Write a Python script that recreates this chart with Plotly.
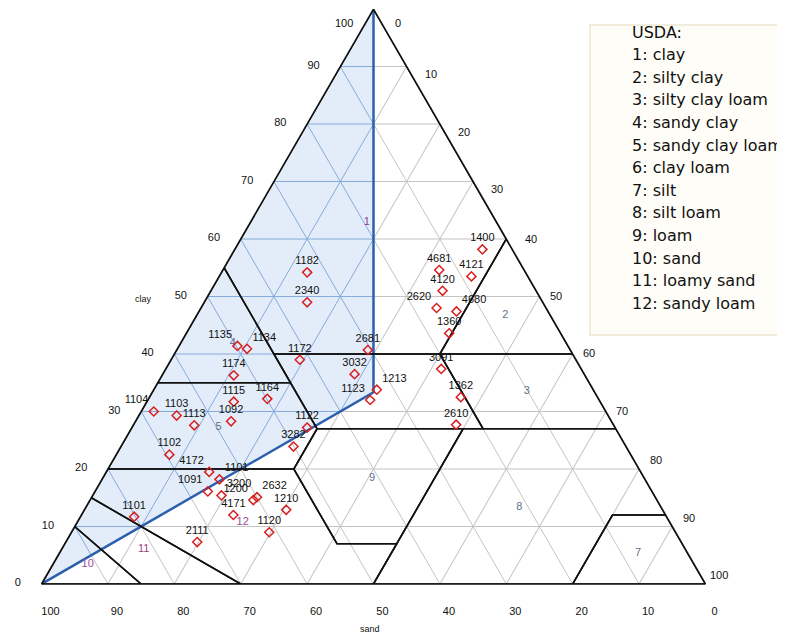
import plotly.graph_objects as go

# ---------------- data ----------------
sample_ids = ["1182", "2340", "1135", "1134", "1172", "2681", "3032", "1174",
              "1164", "1115", "1104", "1103", "1113", "1092", "1123", "1213",
              "1122", "3282", "1102", "4172", "1101", "1091", "3200", "2632",
              "1200", "4171", "1210", "1120", "2111", "1101",
              "1400", "4681", "4121", "4120", "2620", "4680", "1360", "3091",
              "1362", "2610"]
clay = [54.2, 49.0, 41.4, 40.9, 39.0, 40.7, 36.5, 36.3,
        32.2, 31.7, 30.0, 29.3, 27.6, 28.3, 32.0, 33.8,
        27.2, 23.9, 22.5, 19.5, 18.2, 16.1, 15.4, 15.1,
        14.6, 12.0, 12.9, 9.0, 7.3, 11.7,
        58.2, 54.6, 53.5, 51.0, 48.0, 47.4, 43.6, 37.4,
        32.5, 27.7]
sand = [32.9, 35.5, 49.8, 48.6, 41.6, 30.5, 34.6, 52.9,
        49.9, 55.2, 68.1, 65.0, 63.2, 57.3, 34.5, 32.6,
        46.4, 50.1, 69.5, 65.0, 64.1, 66.9, 65.2, 60.0,
        60.8, 65.1, 56.7, 61.2, 72.9, 80.2,
        4.5, 12.8, 8.5, 14.1, 16.5, 13.8, 16.8, 21.1,
        20.6, 23.7]
silt = [12.9, 15.5, 8.8, 10.5, 19.4, 28.8, 28.9, 10.8,
        17.9, 13.1, 1.9, 5.7, 9.2, 14.4, 33.5, 33.6,
        26.4, 26.0, 8.0, 15.5, 17.7, 17.0, 19.4, 24.9,
        24.6, 22.9, 30.4, 29.8, 19.8, 8.1,
        37.3, 32.6, 38.0, 34.9, 35.5, 38.8, 39.6, 41.5,
        46.9, 48.6]
label_positions = ["top center", "top center", "top left", "top right", "top center",
                   "top center", "top center", "top center",
                   "top center", "top center", "top left", "top center", "top center",
                   "top center", "top left", "top right",
                   "top center", "top center", "top center", "top left", "top right",
                   "top left", "top right", "top right",
                   "top left", "top center", "top center", "top center", "top center",
                   "top center",
                   "top center", "top center", "top center", "top center", "top left",
                   "top right", "top center", "top center",
                   "top center", "top center"]

# USDA texture class numbers placed on the chart
class_numbers = ["1", "2", "3", "4", "5", "7", "8", "9", "10", "11", "12"]
class_clay = [63.0, 46.7, 33.6, 41.8, 27.3, 5.3, 13.3, 18.4, 3.5, 6.0, 10.8]
class_sand = [19.5, 6.8, 10.1, 50.3, 59.7, 7.5, 21.4, 41.0, 91.3, 81.6, 64.3]
class_silt = [17.5, 46.5, 56.3, 7.9, 13.0, 87.2, 65.3, 40.6, 5.2, 12.4, 24.9]
class_colors = ["#8a3f8f", "#5f6f90", "#5f6f90", "#5f6f90", "#5f6f90", "#5f6f90",
                "#5f6f90", "#5f6f90", "#9a4a9a", "#9a3f7a", "#9a4a9a"]

legend_title = "USDA:"
legend_lines = ["1: clay", "2: silty clay", "3: silty clay loam", "4: sandy clay",
                "5: sandy clay loam", "6: clay loam", "7: silt", "8: silt loam",
                "9: loam", "10: sand", "11: loamy sand", "12: sandy loam"]

# USDA class polygons as (clay, sand, silt) vertices
usda_polygons = {
    "clay": [(40, 45, 15), (55, 45, 0), (100, 0, 0), (60, 0, 40), (40, 20, 40)],
    "silty clay": [(40, 20, 40), (60, 0, 40), (40, 0, 60)],
    "silty clay loam": [(40, 20, 40), (40, 0, 60), (27, 0, 73), (27, 20, 53)],
    "clay loam": [(40, 45, 15), (40, 20, 40), (27, 20, 53), (27, 45, 28)],
    "sandy clay": [(55, 45, 0), (35, 65, 0), (35, 45, 20), (40, 45, 15)],
    "sandy clay loam": [(35, 65, 0), (20, 80, 0), (20, 52, 28), (27, 45, 28), (35, 45, 20)],
    "loam": [(27, 45, 28), (20, 52, 28), (7, 52, 41), (7, 43, 50), (27, 23, 50)],
    "silt loam": [(27, 23, 50), (27, 0, 73), (12, 0, 88), (12, 8, 80), (0, 20, 80), (0, 50, 50), (7, 43, 50)],
    "silt": [(12, 8, 80), (12, 0, 88), (0, 0, 100), (0, 20, 80)],
    "sandy loam": [(20, 80, 0), (20, 52, 28), (7, 52, 41), (7, 43, 50), (0, 50, 50), (0, 70, 30), (15, 85, 0)],
    "loamy sand": [(15, 85, 0), (0, 70, 30), (0, 85, 15), (10, 90, 0)],
    "sand": [(10, 90, 0), (0, 85, 15), (0, 100, 0)],
}

grid_values = [10, 20, 30, 40, 50, 60, 70, 80, 90]
tick_values = [0, 10, 20, 30, 40, 50, 60, 70, 80, 90, 100]

# ---------------- figure ----------------
W, H = 785, 643
OFF = 8  # the page body margin shifts the figure by this many pixels on screen
fig = go.Figure()

# shaded region where silt is the smallest fraction (sand corner, clay corner, centroid)
third = 100.0 / 3
fig.add_trace(go.Scatterternary(
    a=[0, 100, third, 0], b=[100, 0, third, 100], c=[0, 0, third, 0],
    mode="lines", fill="toself", fillcolor="#e3edf9",
    line=dict(width=0, color="rgba(0,0,0,0)"), hoverinfo="skip", showlegend=False))

# blue grid lines inside the shaded region
ga, gb, gc = [], [], []
for k in grid_values:
    lo = max(100 - 2 * k, (100 - k) / 2)
    if lo <= 100 - k:
        ga += [k, k, None]; gb += [lo, 100 - k, None]; gc += [100 - k - lo, 0, None]
    lo = max((100 - k) / 2, 100 - 2 * k)
    if lo <= 100 - k:
        ga += [lo, 100 - k, None]; gb += [k, k, None]; gc += [100 - k - lo, 0, None]
    if k < third:
        ga += [k, 100 - 2 * k, None]; gb += [100 - 2 * k, k, None]; gc += [k, k, None]
fig.add_trace(go.Scatterternary(
    a=ga, b=gb, c=gc, mode="lines", line=dict(color="#86aadb", width=1),
    hoverinfo="skip", showlegend=False))

# blue boundary (medians)
fig.add_trace(go.Scatterternary(
    a=[0, third, 100], b=[100, third, 0], c=[0, third, 0], mode="lines",
    line=dict(color="#2c5fad", width=2.5), hoverinfo="skip", showlegend=False))

# USDA class boundaries
for name, poly in usda_polygons.items():
    pts = poly + [poly[0]]
    fig.add_trace(go.Scatterternary(
        a=[p[0] for p in pts], b=[p[1] for p in pts], c=[p[2] for p in pts],
        mode="lines", line=dict(color="#111111", width=1.6),
        hoverinfo="skip", showlegend=False, name=name))

# class numbers
fig.add_trace(go.Scatterternary(
    a=class_clay, b=class_sand, c=class_silt, mode="text", text=class_numbers,
    textfont=dict(family="Arial", size=11, color=class_colors),
    hoverinfo="skip", showlegend=False, cliponaxis=False))

# samples
fig.add_trace(go.Scatterternary(
    a=clay, b=sand, c=silt, mode="markers+text", text=sample_ids,
    textposition=label_positions, cliponaxis=False,
    textfont=dict(family="Arial", size=11, color="#111111"),
    marker=dict(symbol="diamond-open", size=7, color="#d81f1f",
                line=dict(width=1.5, color="#d81f1f")),
    showlegend=False))

tick_font = dict(family="Arial", size=11, color="#111111")
axis_common = dict(
    min=0, tickmode="array", tickvals=tick_values,
    ticks="outside", ticklen=18, tickcolor="rgba(0,0,0,0)",
    showgrid=True, gridcolor="#c4c4c4", gridwidth=1,
    showline=True, linecolor="#111111", linewidth=1.6,
    tickfont=tick_font, title=dict(text=""))

aaxis = dict(axis_common, ticktext=[str(v) if v < 100 else "" for v in tick_values])
baxis = dict(axis_common, ticktext=[str(v) for v in tick_values])
caxis = dict(axis_common, showticklabels=False)


def px(x):
    return (x - OFF) / W


def py(y):
    return 1 - (y - OFF) / H


fig.update_layout(
    width=W, height=H,
    margin=dict(l=0, r=0, t=0, b=0),
    paper_bgcolor="white",
    font=dict(family="Arial"),
    ternary=dict(
        sum=100,
        domain=dict(x=[0.0398, 0.8914], y=[0.1042, 0.9984]),
        bgcolor="white",
        aaxis=aaxis, baxis=baxis, caxis=caxis),
    shapes=[dict(type="rect", xref="paper", yref="paper",
                 x0=px(590), x1=px(793), y0=py(335), y1=py(25),
                 fillcolor="#fffdf7", line=dict(color="#f1ecdc", width=2), layer="below")],
)

# approximate on-screen geometry of the rendered triangle (for right-edge tick labels)
apex_x, apex_y, right_x, base_y = 373.5, 9.0, 706.0, 583.0

ann = [dict(text="clay", x=px(133), y=py(299), xref="paper", yref="paper",
            showarrow=False, font=dict(family="Arial", size=9, color="#111111")),
       dict(text="sand", x=px(370), y=py(636), xref="paper", yref="paper",
            showarrow=False, font=dict(family="Arial", size=9, color="#111111")),
       dict(text="100", x=px(apex_x - 30), y=py(apex_y + 6), xref="paper",
            yref="paper", showarrow=False, font=tick_font)]
for v in tick_values:
    sx = apex_x + (right_x - apex_x) * v / 100 + 24
    sy = apex_y + (base_y - apex_y) * v / 100 + (6 if v == 0 else 0)
    ann.append(dict(text=str(v), x=px(sx), y=py(sy), xref="paper", yref="paper",
                    showarrow=False, font=tick_font))
for i, line in enumerate([legend_title] + legend_lines):
    ann.append(dict(text=line, x=px(630), y=py(32 + 22.6 * i),
                    xref="paper", yref="paper", xanchor="left", yanchor="middle",
                    showarrow=False, font=dict(family="DejaVu Sans", size=16, color="#111111")))
fig.update_layout(annotations=ann)

fig.write_html("out.html")
